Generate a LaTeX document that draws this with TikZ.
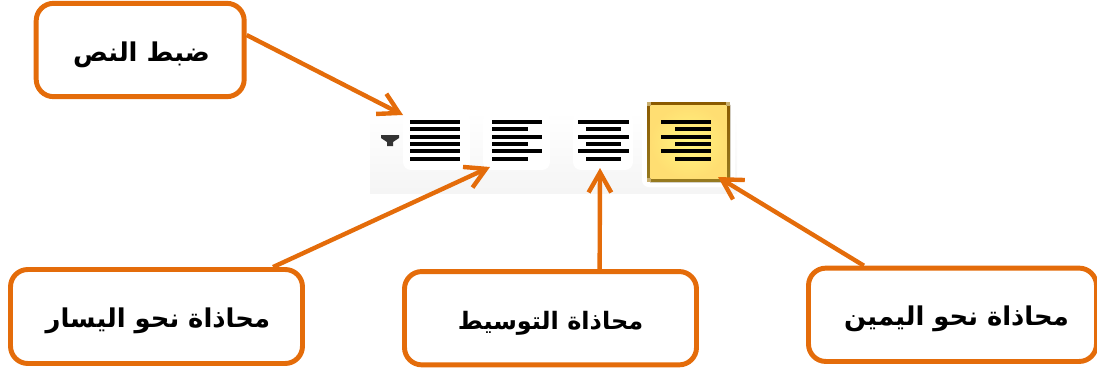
\documentclass[tikz,border=0pt]{standalone}
\usepackage{fontspec}
\usetikzlibrary{arrows.meta,calc}
\TeXXeTstate=1
\newfontfamily\arabicfont[Script=Arabic]{DejaVu Sans}
\definecolor{orng}{HTML}{E46C0A}
\definecolor{brntop}{HTML}{8B5A00}
\definecolor{brnbot}{HTML}{967A20}
\definecolor{tan}{HTML}{C8AE6E}
\definecolor{btnin}{HTML}{FFF57F}
\definecolor{btnout}{HTML}{FFDE72}
\newcommand{\ar}[1]{{\arabicfont\bfseries\beginR #1\endR}}
\tikzset{
  x=0.75pt,y=-0.75pt,
  callout/.style={draw=orng,line width=3.7pt,rounded corners=13pt,fill=white,inner sep=0pt,text height=20pt,text depth=3.5pt,font=\fontsize{19.4pt}{22pt}\selectfont,text=black},
  pointer/.style={draw=orng,line width=3.3pt,-{Straight Barb[length=15pt,width=17pt,line width=3.3pt]}},
  blob/.style={fill=white,draw=none,rounded corners=6pt},
  cornermark/.style={fill=tan,draw=none},
}
\begin{document}
\begin{tikzpicture}
\useasboundingbox (0,0) rectangle (1097,368);
% toolbar ground
\fill[top color=white,bottom color=black!4,draw=none] (370,112) rectangle (737,193);
\fill[blob] (403,112) rectangle (470,170);
\fill[blob] (483,112) rectangle (550,170);
\fill[blob] (573,112) rectangle (633,170);
\fill[white,rounded corners=5pt] (642,96) rectangle (735,187);
% dropdown mark
\fill[black!80] (381,135) -- (399,135) -- (399,138) -- (393,142) -- (393,146) -- (387,146) -- (387,142) -- (381,138) -- cycle;
% highlighted button
\fill[top color=brntop,bottom color=brnbot] (650,102) -- (727,102) -- (730,105) -- (730,179) -- (727,182) -- (650,182) -- (647,179) -- (647,105) -- cycle;
\fill[inner color=btnin,outer color=btnout] (650.5,105.5) rectangle (726.5,178.5);
\fill[cornermark] (647,102) rectangle (651,106);
\fill[cornermark] (726,102) rectangle (730,106);
\fill[cornermark] (647,178) rectangle (651,182);
\fill[cornermark] (726,178) rectangle (730,182);
% icon bars
\foreach \yy/\kind in {121.7/0,129/1,136.7/0,144/1,151/0,158.5/1}{
  \fill (410,\yy-2) rectangle (460,\yy+2);
  \ifnum\kind=0
    \fill (492,\yy-2) rectangle (542,\yy+2);
    \fill (578,\yy-2) rectangle (629,\yy+2);
    \fill (661,\yy-2) rectangle (711,\yy+2);
  \else
    \fill (492,\yy-2) rectangle (528,\yy+2);
    \fill (586,\yy-2) rectangle (621,\yy+2);
    \fill (675,\yy-2) rectangle (711,\yy+2);
  \fi
}
% callouts
\node[callout,minimum width=156pt,minimum height=70pt] (just) at (140.2,50) {\hspace*{2pt}\ar{ضبط النص}};
\node[callout,minimum width=219pt,minimum height=70.5pt] (left) at (156.5,316.5) {\hspace*{2pt}\ar{محاذاة نحو اليسار}};
\node[callout,minimum width=219pt,minimum height=70pt,font=\fontsize{18pt}{22pt}\selectfont] (center) at (550.5,318.2) {\ar{محاذاة التوسيط}};
\node[callout,minimum width=216pt,minimum height=70pt] (right) at (952.5,314.8) {\hspace*{6pt}\ar{محاذاة نحو اليمين}};
% targets
\coordinate (tipjust) at (403,115);
\coordinate (tipleft) at (490,167);
\coordinate (tipcenter) at (600,168);
\coordinate (tipright) at (718,177);
% pointers
\draw[pointer] (just.8) -- (tipjust);
\draw[pointer] (left.23) -- (tipleft);
\draw[pointer] (center.45) -- (tipcenter);
\draw[pointer] (right.151) -- (tipright);
\end{tikzpicture}
\end{document}
